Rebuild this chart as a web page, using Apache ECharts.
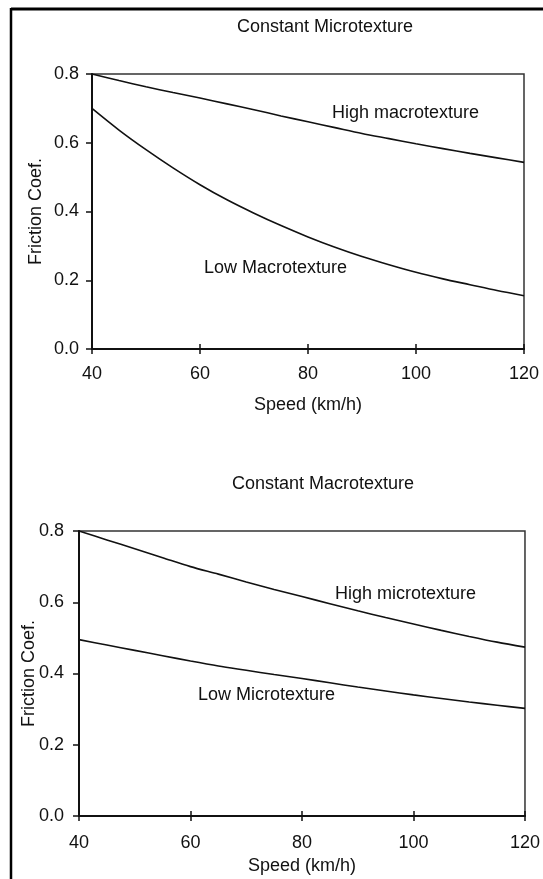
<!DOCTYPE html>
<html>
<head>
<meta charset="utf-8">
<script src="https://cdn.jsdelivr.net/npm/echarts@6/dist/echarts.min.js"></script>
<style>
html,body{margin:0;padding:0;background:#fff;}
#c{width:543px;height:879px;}
</style>
</head>
<body>
<div id="c"></div>
<script>
var speeds = [40,45,50,55,60,65,70,75,80,85,90,95,100,105,110,115,120];
var highMacro = [0.80,0.781,0.763,0.746,0.73,0.713,0.696,0.678,0.661,0.644,0.627,0.612,0.597,0.583,0.569,0.556,0.543];
var lowMacro  = [0.70,0.637,0.580,0.527,0.478,0.434,0.395,0.359,0.326,0.296,0.269,0.245,0.223,0.204,0.187,0.170,0.155];
var highMicro = [0.80,0.775,0.75,0.725,0.70,0.679,0.657,0.636,0.616,0.596,0.576,0.557,0.539,0.521,0.504,0.488,0.474];
var lowMicro  = [0.495,0.48,0.465,0.45,0.435,0.421,0.409,0.397,0.386,0.374,0.362,0.351,0.34,0.33,0.32,0.311,0.302];
var xTicks = {min:40, max:120, interval:20};
var yTicks = {min:0, max:0.8, interval:0.2};
var titles = ['Constant Microtexture','Constant Macrotexture'];
var xName = 'Speed (km/h)';
var yName = 'Friction Coef.';
var notes = ['High macrotexture','Low Macrotexture','High microtexture','Low Microtexture'];

function pairs(v){ return speeds.map(function(s,i){ return [s, v[i]]; }); }

var FONT = '"Liberation Sans", Arial, sans-serif';
var INK = '#111';
var chart = echarts.init(document.getElementById('c'));

var grids = [
  {left:92, top:74, width:432, height:275},
  {left:79, top:531, width:446, height:285}
];
var labelMargins = [{x:16, y:13, xn:47, yn:47},{x:18, y:15, xn:41, yn:41}];

var xAxes = [], yAxes = [];
grids.forEach(function(g, i){
  var m = labelMargins[i];
  xAxes.push({
    type:'value', gridIndex:i, min:xTicks.min, max:xTicks.max, interval:xTicks.interval,
    name:xName, nameLocation:'middle', nameGap:m.xn,
    nameTextStyle:{color:INK, fontSize:18, fontFamily:FONT},
    axisLine:{show:true, onZero:false, lineStyle:{color:INK, width:2}},
    axisTick:{show:true, inside:false, length:5, lineStyle:{color:INK, width:1.5}},
    axisLabel:{color:INK, fontSize:18, fontFamily:FONT, margin:m.x},
    splitLine:{show:false}
  });
  xAxes.push({
    type:'value', gridIndex:i, min:xTicks.min, max:xTicks.max, interval:xTicks.interval,
    position:'bottom',
    axisLine:{show:false},
    axisTick:{show:true, inside:true, length:5, lineStyle:{color:INK, width:1.5}},
    axisLabel:{show:false}, splitLine:{show:false}
  });
  yAxes.push({
    type:'value', gridIndex:i, min:yTicks.min, max:yTicks.max, interval:yTicks.interval,
    name:yName, nameLocation:'middle', nameGap:m.yn, nameRotate:90, nameMoveOverlap:false,
    nameTextStyle:{color:INK, fontSize:18, fontFamily:FONT},
    axisLine:{show:true, onZero:false, lineStyle:{color:INK, width:2}},
    axisTick:{show:true, inside:false, length:6, lineStyle:{color:INK, width:1.5}},
    axisLabel:{color:INK, fontSize:18, fontFamily:FONT, margin:m.y,
      formatter:function(v){ return v.toFixed(1); }},
    splitLine:{show:false}
  });
});

function line(data, gi){
  return {type:'line', xAxisIndex:gi*2, yAxisIndex:gi, data:pairs(data),
    smooth:0.3, showSymbol:false, silent:true,
    lineStyle:{color:INK, width:1.6}};
}

function txt(x, y, s){
  return {type:'text', left:x, top:y, style:{text:s, fill:INK, font:'18px ' + FONT}};
}

chart.setOption({
  animation:false,
  backgroundColor:'#fff',
  grid:grids.map(function(g){ return Object.assign({show:true, borderColor:'#333', borderWidth:1.5, backgroundColor:'transparent'}, g); }),
  xAxis:xAxes,
  yAxis:yAxes,
  series:[line(highMacro,0), line(lowMacro,0), line(highMicro,1), line(lowMicro,1)],
  graphic:[
    {type:'line', shape:{x1:11, y1:9, x2:543, y2:9}, style:{stroke:'#000', lineWidth:3}},
    {type:'line', shape:{x1:11, y1:8, x2:11, y2:879}, style:{stroke:'#000', lineWidth:2.5}},
    txt(237, 18, titles[0]),
    txt(232, 475, titles[1]),
    txt(332, 104, notes[0]),
    txt(204, 259, notes[1]),
    txt(335, 585, notes[2]),
    txt(198, 686, notes[3])
  ]
});
</script>
</body>
</html>
